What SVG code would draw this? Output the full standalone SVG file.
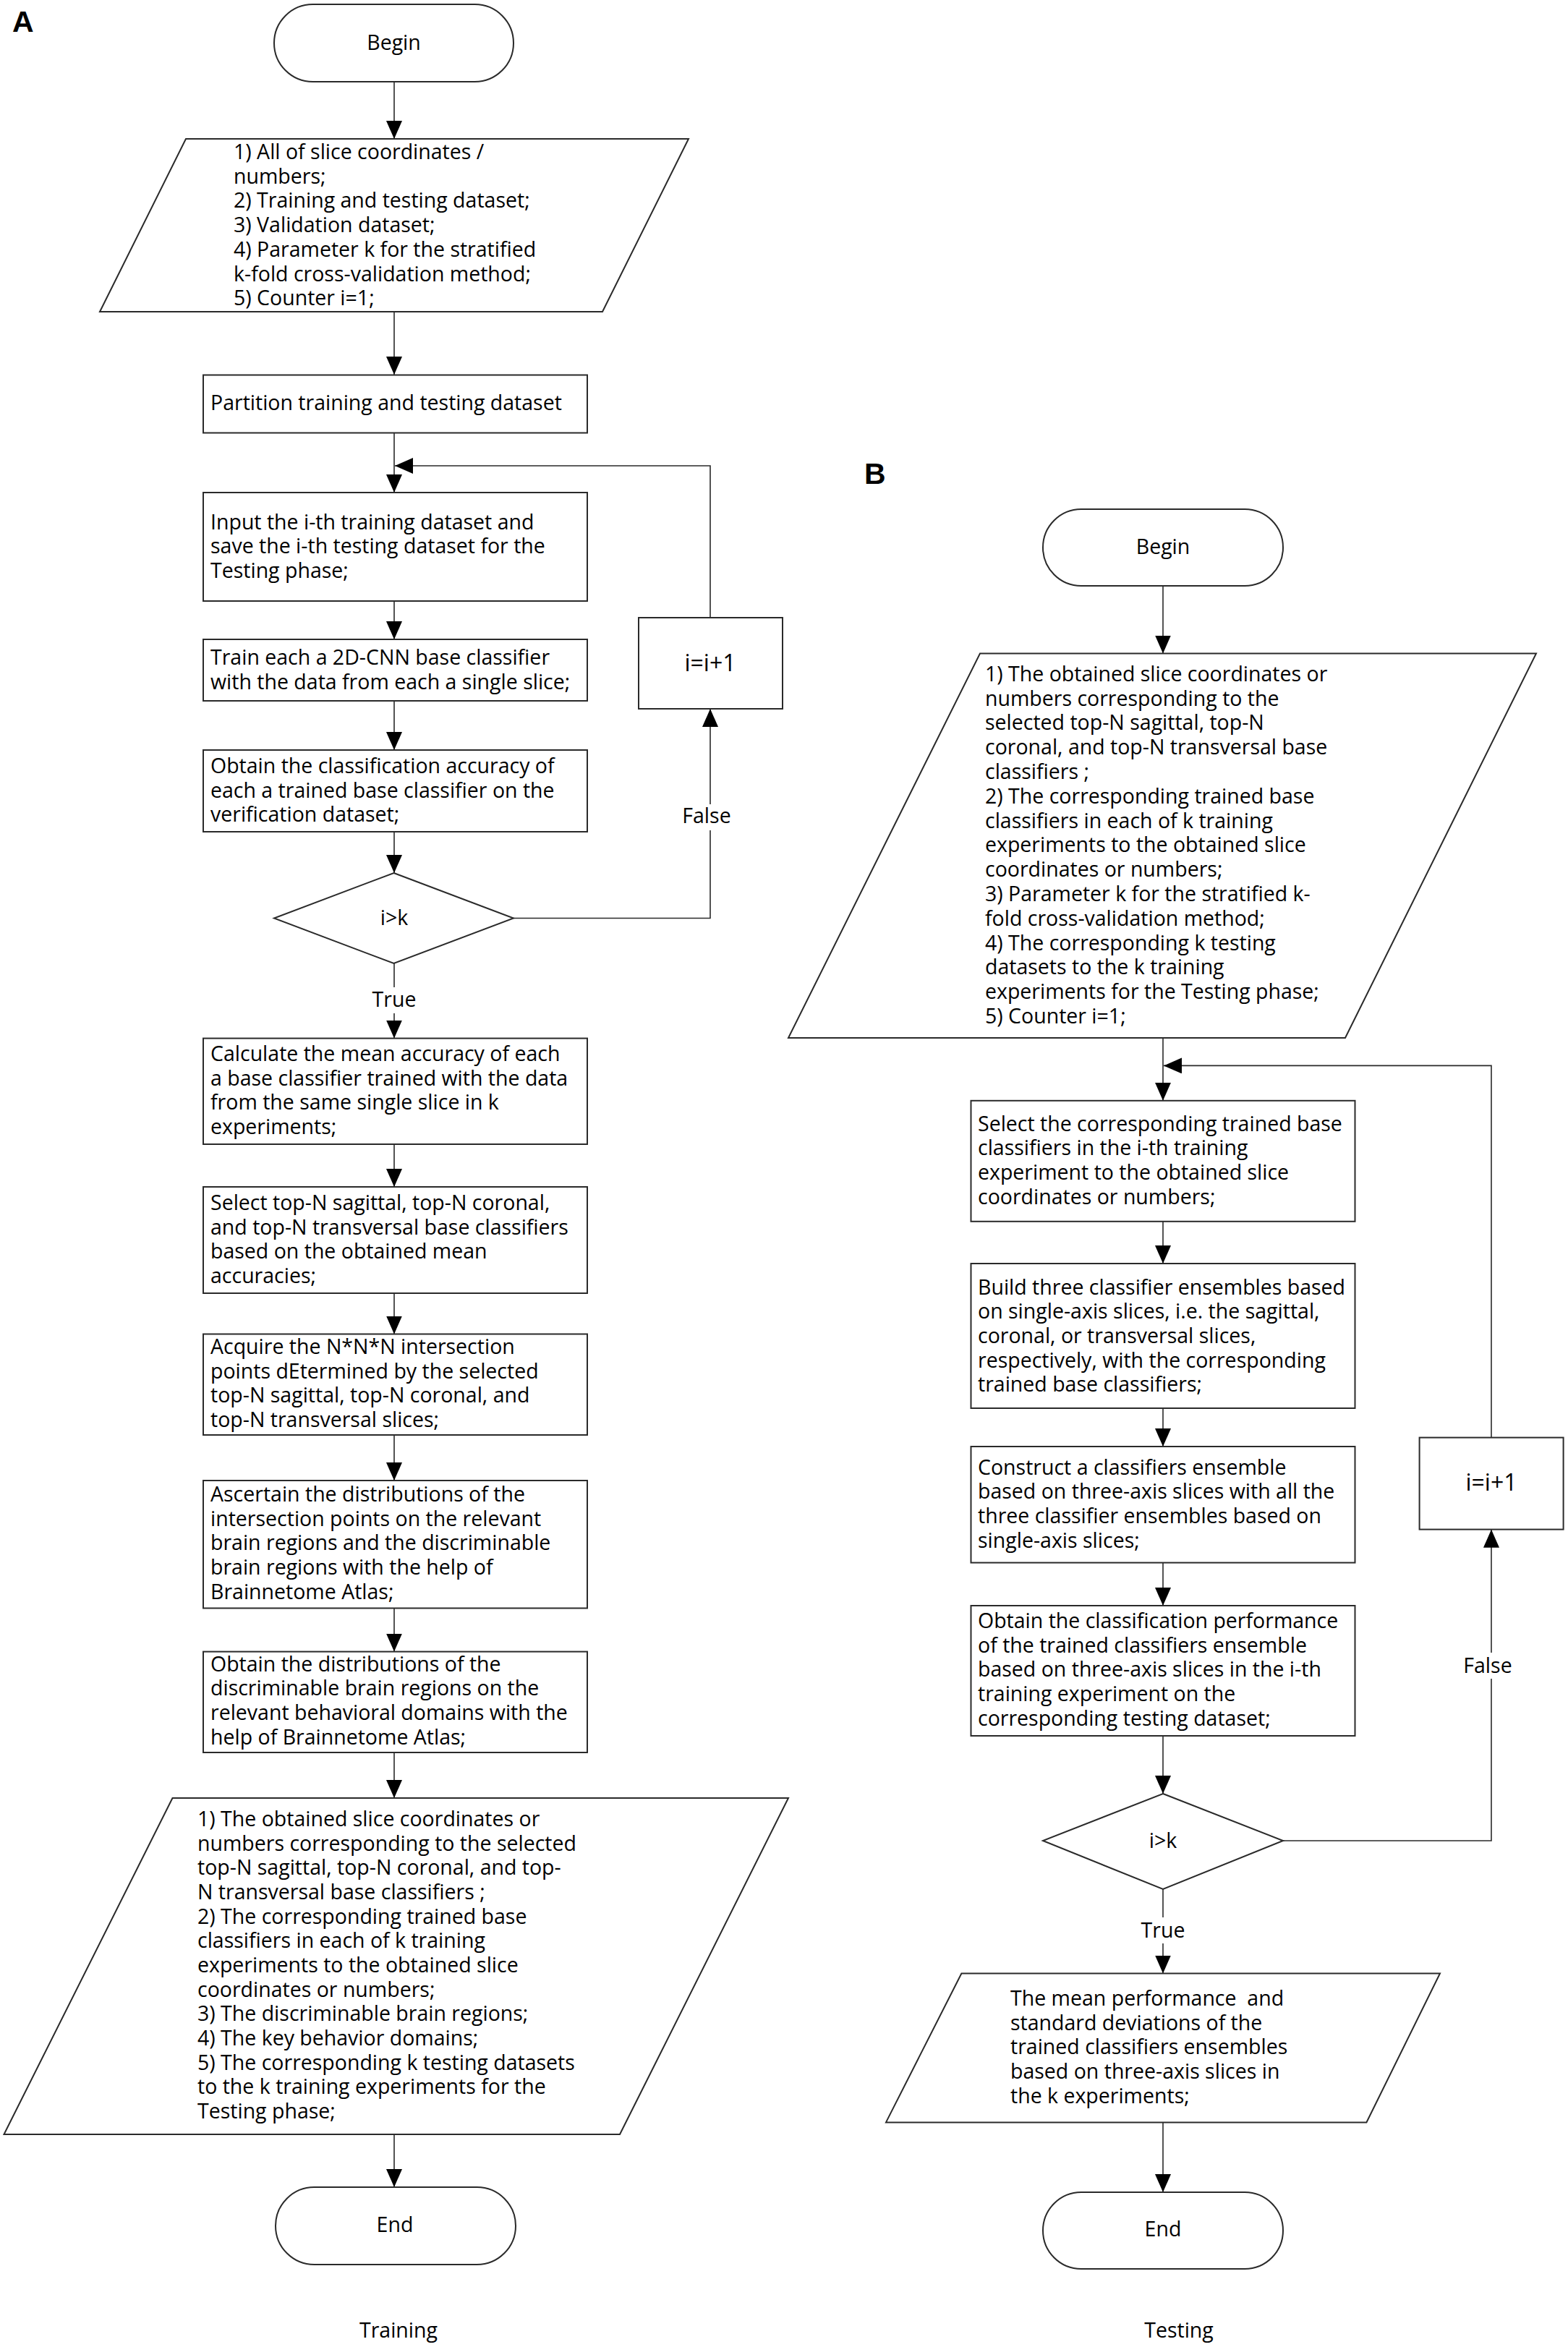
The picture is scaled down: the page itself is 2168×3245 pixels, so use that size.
<svg xmlns="http://www.w3.org/2000/svg" width="2168" height="3245" viewBox="0 0 2168 3245">
<style>
.s{fill:#fff;stroke:#2a2a2a;stroke-width:2}
.c{fill:none;stroke:#2a2a2a;stroke-width:1.6}
.t{font-family:"Open Sans","Noto Sans",sans-serif;font-size:28.5px;fill:#000}
.m{text-anchor:middle}
.big{font-size:32px}
.lab{font-family:"Liberation Sans",Arial,sans-serif;font-weight:bold;font-size:41px;fill:#000}
</style>
<defs>
<marker id="ah" markerUnits="userSpaceOnUse" markerWidth="26" markerHeight="22" refX="25" refY="11" orient="auto">
<path d="M0,0 L25,11 L0,22 z" fill="#000"/>
</marker>
</defs>
<rect width="2168" height="3245" fill="#fff"/>
<text class="lab" x="17" y="44">A</text>
<text class="lab" x="1195" y="669">B</text>

<g id="connectors">
<path class="c" d="M545,113 V192" marker-end="url(#ah)"/>
<path class="c" d="M545,431 V518" marker-end="url(#ah)"/>
<path class="c" d="M545,598.5 V681" marker-end="url(#ah)"/>
<path class="c" d="M982,854 V644 H546" marker-end="url(#ah)"/>
<path class="c" d="M545,830.6 V884" marker-end="url(#ah)"/>
<path class="c" d="M545,969 V1037" marker-end="url(#ah)"/>
<path class="c" d="M545,1150 V1207" marker-end="url(#ah)"/>
<path class="c" d="M710,1269.5 H982 V980" marker-end="url(#ah)"/>
<path class="c" d="M545,1332 V1435.6" marker-end="url(#ah)"/>
<path class="c" d="M545,1582 V1641" marker-end="url(#ah)"/>
<path class="c" d="M545,1788 V1844.5" marker-end="url(#ah)"/>
<path class="c" d="M545,1984 V2047" marker-end="url(#ah)"/>
<path class="c" d="M545,2223.5 V2283.6" marker-end="url(#ah)"/>
<path class="c" d="M545,2423 V2486" marker-end="url(#ah)"/>
<path class="c" d="M545,2951 V3024" marker-end="url(#ah)"/>
<rect x="955" y="1112" width="44" height="36" fill="#fff"/>
<text class="t m" x="977" y="1137.5">False</text>
<rect x="520" y="1365" width="50" height="36" fill="#fff"/>
<text class="t m" x="545" y="1391.6">True</text>

<path class="c" d="M1608,810 V903.5" marker-end="url(#ah)"/>
<path class="c" d="M1608,1435 V1521.8" marker-end="url(#ah)"/>
<path class="c" d="M2062,1987.6 V1473.4 H1609" marker-end="url(#ah)"/>
<path class="c" d="M1608,1688.7 V1747" marker-end="url(#ah)"/>
<path class="c" d="M1608,1947 V2000" marker-end="url(#ah)"/>
<path class="c" d="M1608,2160.6 V2220" marker-end="url(#ah)"/>
<path class="c" d="M1608,2400 V2480" marker-end="url(#ah)"/>
<path class="c" d="M1774,2545 H2062 V2114.7" marker-end="url(#ah)"/>
<path class="c" d="M1608,2612 V2728.5" marker-end="url(#ah)"/>
<path class="c" d="M1608,2934.4 V3031" marker-end="url(#ah)"/>
<rect x="2030" y="2285" width="60" height="36" fill="#fff"/>
<text class="t m" x="2057" y="2313">False</text>
<rect x="1580" y="2651" width="56" height="36" fill="#fff"/>
<text class="t m" x="1608" y="2678.5">True</text>
</g>

<g id="a-begin">
<rect class="s" x="379" y="6" width="331" height="107" rx="53.5"/>
<text class="t m" x="544.5" y="69">Begin</text>
</g>
<g id="a-input">
<polygon class="s" points="257,192 952,192 833,431 138,431"/>
<text class="t" x="323" y="220">1) All of slice coordinates /<tspan x="323" dy="33.7">numbers;</tspan><tspan x="323" dy="33.7">2) Training and testing dataset;</tspan><tspan x="323" dy="33.7">3) Validation dataset;</tspan><tspan x="323" dy="33.7">4) Parameter k for the stratified</tspan><tspan x="323" dy="33.7">k-fold cross-validation method;</tspan><tspan x="323" dy="33.7">5) Counter i=1;</tspan></text>
</g>
<g id="a-partition">
<rect class="s" x="281" y="518.5" width="531" height="80"/>
<text class="t" x="291" y="567">Partition training and testing dataset</text>
</g>
<g id="a-inputtrain">
<rect class="s" x="281" y="681" width="531" height="150"/>
<text class="t" x="291" y="731.7">Input the i-th training dataset and<tspan x="291" dy="33.7">save the i-th testing dataset for the</tspan><tspan x="291" dy="33.7">Testing phase;</tspan></text>
</g>
<g id="a-train">
<rect class="s" x="281" y="884" width="531" height="85"/>
<text class="t" x="291" y="919">Train each a 2D-CNN base classifier<tspan x="291" dy="33.7">with the data from each a single slice;</tspan></text>
</g>
<g id="a-obtainacc">
<rect class="s" x="281" y="1037" width="531" height="113"/>
<text class="t" x="291" y="1068.8">Obtain the classification accuracy of<tspan x="291" dy="33.7">each a trained base classifier on the</tspan><tspan x="291" dy="33.7">verification dataset;</tspan></text>
</g>
<g id="a-decision">
<polygon class="s" points="544.5,1207 710,1269.5 544.5,1332 379,1269.5"/>
<text class="t m" x="545" y="1279">i&gt;k</text>
</g>
<g id="a-incr">
<rect class="s" x="883" y="854" width="199" height="126"/>
<text class="t m big" x="982" y="928">i=i+1</text>
</g>
<g id="a-mean">
<rect class="s" x="281" y="1435.6" width="531" height="146.4"/>
<text class="t" x="291" y="1467">Calculate the mean accuracy of each<tspan x="291" dy="33.7">a base classifier trained with the data</tspan><tspan x="291" dy="33.7">from the same single slice in k</tspan><tspan x="291" dy="33.7">experiments;</tspan></text>
</g>
<g id="a-select">
<rect class="s" x="281" y="1641" width="531" height="147"/>
<text class="t" x="291" y="1673">Select top-N sagittal, top-N coronal,<tspan x="291" dy="33.7">and top-N transversal base classifiers</tspan><tspan x="291" dy="33.7">based on the obtained mean</tspan><tspan x="291" dy="33.7">accuracies;</tspan></text>
</g>
<g id="a-acquire">
<rect class="s" x="281" y="1844.5" width="531" height="139.5"/>
<text class="t" x="291" y="1872">Acquire the N*N*N intersection<tspan x="291" dy="33.7">points dEtermined by the selected</tspan><tspan x="291" dy="33.7">top-N sagittal, top-N coronal, and</tspan><tspan x="291" dy="33.7">top-N transversal slices;</tspan></text>
</g>
<g id="a-ascertain">
<rect class="s" x="281" y="2047" width="531" height="176.5"/>
<text class="t" x="291" y="2076">Ascertain the distributions of the<tspan x="291" dy="33.7">intersection points on the relevant</tspan><tspan x="291" dy="33.7">brain regions and the discriminable</tspan><tspan x="291" dy="33.7">brain regions with the help of</tspan><tspan x="291" dy="33.7">Brainnetome Atlas;</tspan></text>
</g>
<g id="a-obtaindist">
<rect class="s" x="281" y="2283.6" width="531" height="139.4"/>
<text class="t" x="291" y="2310.6">Obtain the distributions of the<tspan x="291" dy="33.7">discriminable brain regions on the</tspan><tspan x="291" dy="33.7">relevant behavioral domains with the</tspan><tspan x="291" dy="33.7">help of Brainnetome Atlas;</tspan></text>
</g>
<g id="a-output">
<polygon class="s" points="238.5,2486 1090,2486 857,2951 5.5,2951"/>
<text class="t" x="273" y="2525">1) The obtained slice coordinates or<tspan x="273" dy="33.67">numbers corresponding to the selected</tspan><tspan x="273" dy="33.67">top-N sagittal, top-N coronal, and top-</tspan><tspan x="273" dy="33.67">N transversal base classifiers ;</tspan><tspan x="273" dy="33.67">2) The corresponding trained base</tspan><tspan x="273" dy="33.67">classifiers in each of k training</tspan><tspan x="273" dy="33.67">experiments to the obtained slice</tspan><tspan x="273" dy="33.67">coordinates or numbers;</tspan><tspan x="273" dy="33.67">3) The discriminable brain regions;</tspan><tspan x="273" dy="33.67">4) The key behavior domains;</tspan><tspan x="273" dy="33.67">5) The corresponding k testing datasets</tspan><tspan x="273" dy="33.67">to the k training experiments for the</tspan><tspan x="273" dy="33.67">Testing phase;</tspan></text>
</g>
<g id="a-end">
<rect class="s" x="381" y="3024" width="332" height="107" rx="53.5"/>
<text class="t m" x="546" y="3086">End</text>
</g>
<text class="t m" x="551" y="3232">Training</text>

<g id="b-begin">
<rect class="s" x="1442" y="704" width="332" height="106" rx="53"/>
<text class="t m" x="1608" y="766">Begin</text>
</g>
<g id="b-input">
<polygon class="s" points="1355,903.5 2124,903.5 1860,1435 1090,1435"/>
<text class="t" x="1362" y="941.7">1) The obtained slice coordinates or<tspan x="1362" dy="33.8">numbers corresponding to the</tspan><tspan x="1362" dy="33.8">selected top-N sagittal, top-N</tspan><tspan x="1362" dy="33.8">coronal, and top-N transversal base</tspan><tspan x="1362" dy="33.8">classifiers ;</tspan><tspan x="1362" dy="33.8">2) The corresponding trained base</tspan><tspan x="1362" dy="33.8">classifiers in each of k training</tspan><tspan x="1362" dy="33.8">experiments to the obtained slice</tspan><tspan x="1362" dy="33.8">coordinates or numbers;</tspan><tspan x="1362" dy="33.8">3) Parameter k for the stratified k-</tspan><tspan x="1362" dy="33.8">fold cross-validation method;</tspan><tspan x="1362" dy="33.8">4) The corresponding k testing</tspan><tspan x="1362" dy="33.8">datasets to the k training</tspan><tspan x="1362" dy="33.8">experiments for the Testing phase;</tspan><tspan x="1362" dy="33.8">5) Counter i=1;</tspan></text>
</g>
<g id="b-select">
<rect class="s" x="1342.5" y="1521.8" width="531" height="167"/>
<text class="t" x="1352" y="1563.5">Select the corresponding trained base<tspan x="1352" dy="33.7">classifiers in the i-th training</tspan><tspan x="1352" dy="33.7">experiment to the obtained slice</tspan><tspan x="1352" dy="33.7">coordinates or numbers;</tspan></text>
</g>
<g id="b-build">
<rect class="s" x="1342.5" y="1747" width="531" height="200"/>
<text class="t" x="1352" y="1789.5">Build three classifier ensembles based<tspan x="1352" dy="33.7">on single-axis slices, i.e. the sagittal,</tspan><tspan x="1352" dy="33.7">coronal, or transversal slices,</tspan><tspan x="1352" dy="33.7">respectively, with the corresponding</tspan><tspan x="1352" dy="33.7">trained base classifiers;</tspan></text>
</g>
<g id="b-construct">
<rect class="s" x="1342.5" y="2000" width="531" height="160.6"/>
<text class="t" x="1352" y="2038.5">Construct a classifiers ensemble<tspan x="1352" dy="33.7">based on three-axis slices with all the</tspan><tspan x="1352" dy="33.7">three classifier ensembles based on</tspan><tspan x="1352" dy="33.7">single-axis slices;</tspan></text>
</g>
<g id="b-obtainperf">
<rect class="s" x="1342.5" y="2220" width="531" height="180"/>
<text class="t" x="1352" y="2251">Obtain the classification performance<tspan x="1352" dy="33.7">of the trained classifiers ensemble</tspan><tspan x="1352" dy="33.7">based on three-axis slices in the i-th</tspan><tspan x="1352" dy="33.7">training experiment on the</tspan><tspan x="1352" dy="33.7">corresponding testing dataset;</tspan></text>
</g>
<g id="b-decision">
<polygon class="s" points="1608,2480 1774,2545 1608,2612 1442,2545"/>
<text class="t m" x="1608" y="2555">i&gt;k</text>
</g>
<g id="b-incr">
<rect class="s" x="1962.6" y="1987.6" width="199" height="127"/>
<text class="t m big" x="2062" y="2061">i=i+1</text>
</g>
<g id="b-output">
<polygon class="s" points="1329.4,2728.5 1991,2728.5 1889.4,2934.4 1225,2934.4"/>
<text class="t" x="1397" y="2773" xml:space="preserve">The mean performance  and<tspan x="1397" dy="33.7">standard deviations of the</tspan><tspan x="1397" dy="33.7">trained classifiers ensembles</tspan><tspan x="1397" dy="33.7">based on three-axis slices in</tspan><tspan x="1397" dy="33.7">the k experiments;</tspan></text>
</g>
<g id="b-end">
<rect class="s" x="1442" y="3031" width="332" height="106" rx="53"/>
<text class="t m" x="1608" y="3092">End</text>
</g>
<text class="t m" x="1630" y="3232">Testing</text>
</svg>
